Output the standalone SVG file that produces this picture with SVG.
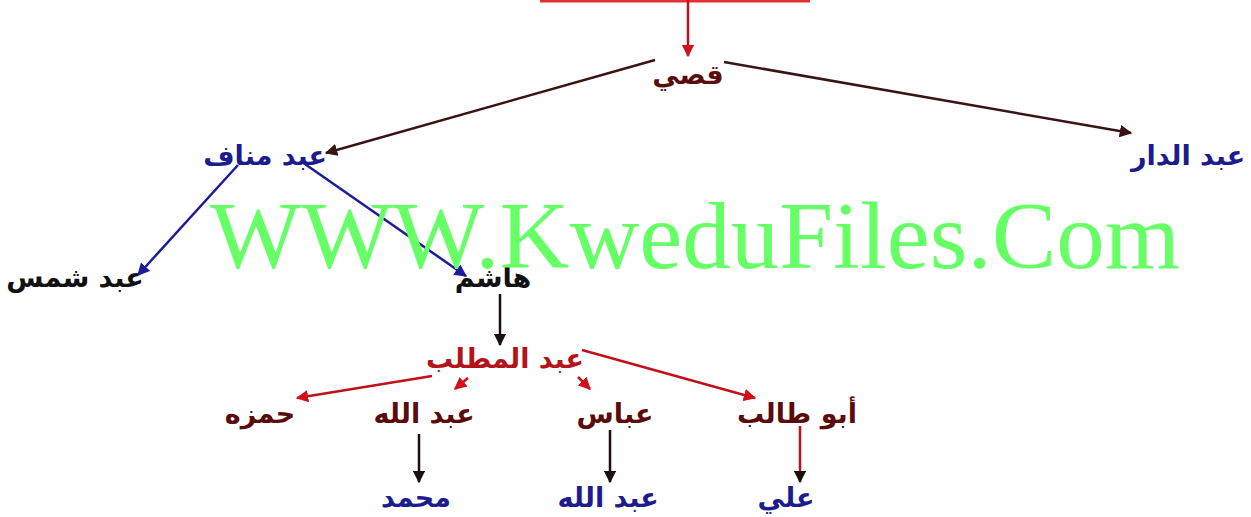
<svg xmlns="http://www.w3.org/2000/svg" width="1251" height="517" viewBox="0 0 1251 517">
<style>
.t{font-family:"DejaVu Sans",sans-serif;font-weight:bold;font-size:27px;text-anchor:middle}
.blue{fill:#1c1c8e}
.dred{fill:#5a0c0c}
.red{fill:#b3141a}
.blk{fill:#111}
.lb{stroke:#3a1414;stroke-width:2.5;fill:none}
.lu{stroke:#1c1c9a;stroke-width:2.5;fill:none}
.lr{stroke:#c0101a;stroke-width:2.5;fill:none}
.lk{stroke:#1a1010;stroke-width:2.5;fill:none}
.wm{font-family:"Liberation Serif",serif;font-size:96px;fill:#66ff66}
</style>
<defs>
<marker id="ab" viewBox="0 0 10 10" refX="9" refY="5" markerWidth="5" markerHeight="5" orient="auto" markerUnits="strokeWidth"><path d="M0,0L10,5L0,10z" fill="#3a1414"/></marker>
<marker id="au" viewBox="0 0 10 10" refX="9" refY="5" markerWidth="5" markerHeight="5" orient="auto" markerUnits="strokeWidth"><path d="M0,0L10,5L0,10z" fill="#1c1c9a"/></marker>
<marker id="ar" viewBox="0 0 10 10" refX="9" refY="5" markerWidth="5" markerHeight="5" orient="auto" markerUnits="strokeWidth"><path d="M0,0L10,5L0,10z" fill="#d0101a"/></marker>
<marker id="ak" viewBox="0 0 10 10" refX="9" refY="5" markerWidth="5" markerHeight="5" orient="auto" markerUnits="strokeWidth"><path d="M0,0L10,5L0,10z" fill="#1a1010"/></marker>
</defs>
<rect width="1251" height="517" fill="#fff"/>
<g id="connectors">
<line x1="540" y1="1" x2="810" y2="1" stroke="#e03030" stroke-width="3"/>
<line class="lr" x1="688" y1="0" x2="688" y2="56" marker-end="url(#ar)"/>
<line class="lb" x1="655" y1="60" x2="326" y2="153" marker-end="url(#ab)"/>
<line class="lb" x1="724" y1="62" x2="1131" y2="133" marker-end="url(#ab)"/>
<line class="lu" x1="238" y1="165" x2="138" y2="275" marker-end="url(#au)"/>
<line class="lu" x1="302" y1="162" x2="466" y2="276" marker-end="url(#au)"/>
<line class="lk" x1="500" y1="294" x2="500" y2="345" marker-end="url(#ak)"/>
<line class="lr" x1="432" y1="376" x2="297" y2="398" marker-end="url(#ar)"/>
<line class="lr" x1="468" y1="378" x2="455" y2="389" marker-end="url(#ar)"/>
<line class="lr" x1="578" y1="377" x2="590" y2="389" marker-end="url(#ar)"/>
<line class="lr" x1="582" y1="350" x2="755" y2="398" marker-end="url(#ar)"/>
<line class="lk" x1="419" y1="434" x2="419" y2="482" marker-end="url(#ak)"/>
<line class="lk" x1="610" y1="430" x2="610" y2="482" marker-end="url(#ak)"/>
<line class="lr" x1="800" y1="426" x2="800" y2="482" stroke="#a01818" marker-end="url(#ak)"/>
</g>
<g id="n-qusay"><text class="t dred" x="688" y="84">قصي</text></g>
<g id="n-abdaldar"><text class="t blue" x="1188" y="165">عبد الدار</text></g>
<g id="n-abdmanaf"><text class="t blue" x="265" y="165">عبد مناف</text></g>
<g id="n-abdshams"><text class="t blk" x="75" y="287">عبد شمس</text></g>
<g id="n-hashim"><text class="t blk" x="493" y="287">هاشم</text></g>
<g id="n-abdmuttalib"><text class="t red" x="505" y="368">عبد المطلب</text></g>
<g id="n-hamza"><text class="t dred" x="260" y="423">حمزه</text></g>
<g id="n-abdullah"><text class="t dred" x="424" y="423">عبد الله</text></g>
<g id="n-abbas"><text class="t dred" x="615" y="423">عباس</text></g>
<g id="n-abutalib"><text class="t dred" x="797" y="423">أبو طالب</text></g>
<g id="n-muhammad"><text class="t blue" x="416" y="507">محمد</text></g>
<g id="n-abdullah2"><text class="t blue" x="608" y="507">عبد الله</text></g>
<g id="n-ali"><text class="t blue" x="786" y="507">علي</text></g>
<g id="watermark"><text class="wm" x="210" y="268" textLength="970" lengthAdjust="spacingAndGlyphs">WWW.KweduFiles.Com</text></g>
</svg>
